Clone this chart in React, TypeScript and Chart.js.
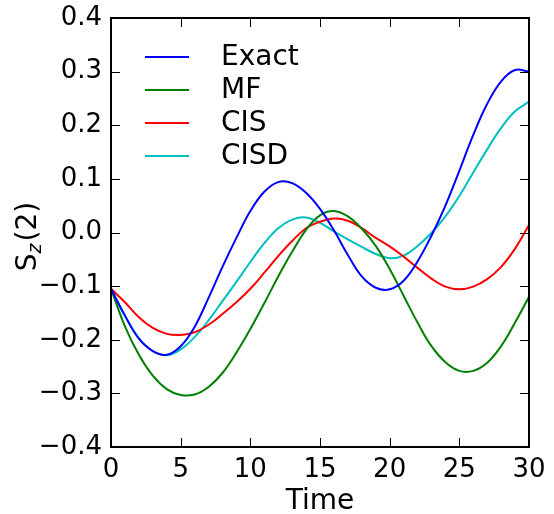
import React, { useEffect, useRef } from "react";
import { Chart, registerables } from "chart.js";

Chart.register(...registerables);

const time = [0, 1, 2, 3, 4, 5, 6, 7, 8, 9, 10, 11, 12, 13, 14, 15, 16, 17, 18, 19, 20, 21, 22, 23, 24, 25, 26, 27, 28, 29, 30];
const exact = [-0.105, -0.155, -0.198, -0.221, -0.228, -0.212, -0.176, -0.122, -0.064, -0.01, 0.04, 0.076, 0.094, 0.092, 0.074, 0.044, 0.004, -0.042, -0.082, -0.103, -0.106, -0.09, -0.054, -0.006, 0.05, 0.115, 0.182, 0.24, 0.282, 0.303, 0.3];
const mf = [-0.105, -0.175, -0.228, -0.267, -0.292, -0.303, -0.302, -0.288, -0.262, -0.224, -0.18, -0.132, -0.082, -0.036, 0.005, 0.032, 0.04, 0.03, 0.007, -0.025, -0.068, -0.118, -0.168, -0.212, -0.242, -0.258, -0.258, -0.243, -0.212, -0.168, -0.12];
const cis = [-0.105, -0.13, -0.158, -0.178, -0.189, -0.191, -0.186, -0.172, -0.152, -0.13, -0.105, -0.075, -0.044, -0.016, 0.008, 0.02, 0.026, 0.022, 0.008, -0.01, -0.026, -0.045, -0.066, -0.086, -0.101, -0.106, -0.101, -0.087, -0.064, -0.03, 0.014];
const cisd = [-0.105, -0.155, -0.197, -0.221, -0.229, -0.218, -0.195, -0.164, -0.128, -0.092, -0.055, -0.02, 0.008, 0.024, 0.028, 0.018, 0.002, -0.013, -0.027, -0.04, -0.048, -0.043, -0.025, -0.001, 0.03, 0.068, 0.112, 0.155, 0.195, 0.226, 0.244];

const seriesNames = ["Exact", "MF", "CIS", "CISD"];
const seriesColors = ["#0000ff", "#008000", "#ff0000", "#00bfbf"];
const seriesValues = [exact, mf, cis, cisd];

const xTicks = [0, 5, 10, 15, 20, 25, 30];
const yTicks = [-0.4, -0.3, -0.2, -0.1, 0.0, 0.1, 0.2, 0.3, 0.4];
const xLabel = "Time";
const FONT = "'DejaVu Sans', sans-serif";

function fmtY(v: number) {
  if (Math.abs(v) < 1e-9) return "0.0";
  const s = Math.abs(v).toFixed(1);
  return v < 0 ? "\u2212" + s : s;
}

const framePlugin = {
  id: "frameTicks",
  afterDatasetsDraw(chart: any) {
    const { ctx, chartArea: a, scales } = chart;
    const len = 9;
    ctx.save();
    ctx.strokeStyle = "#000";
    ctx.lineWidth = 1;
    ctx.beginPath();
    for (const v of xTicks) {
      const px = Math.round(scales.x.getPixelForValue(v)) + 0.5;
      ctx.moveTo(px, a.bottom);
      ctx.lineTo(px, a.bottom - len);
      ctx.moveTo(px, a.top);
      ctx.lineTo(px, a.top + len);
    }
    for (const v of yTicks) {
      const py = Math.round(scales.y.getPixelForValue(v)) + 0.5;
      ctx.moveTo(a.left, py);
      ctx.lineTo(a.left + len, py);
      ctx.moveTo(a.right, py);
      ctx.lineTo(a.right - len, py);
    }
    ctx.stroke();
    ctx.lineWidth = 2;
    ctx.strokeRect(a.left, a.top, a.right - a.left, a.bottom - a.top);

    // legend
    const lx = a.left + 34;
    const ly = a.top + 39;
    chart.data.datasets.forEach((ds: any, i: number) => {
      const y = ly + i * 33;
      ctx.strokeStyle = ds.borderColor;
      ctx.lineWidth = 2;
      ctx.beginPath();
      ctx.moveTo(lx, y);
      ctx.lineTo(lx + 44, y);
      ctx.stroke();
      ctx.fillStyle = "#000";
      ctx.font = `28px ${FONT}`;
      ctx.textBaseline = "middle";
      ctx.textAlign = "left";
      ctx.fillText(ds.label, lx + 76, y + 1);
    });

    // x label
    ctx.fillStyle = "#000";
    ctx.font = `28px ${FONT}`;
    ctx.textAlign = "center";
    ctx.textBaseline = "alphabetic";
    ctx.fillText(xLabel, (a.left + a.right) / 2, a.bottom + 62);

    // y label S_z(2)
    const cy = (a.top + a.bottom) / 2 + 4;
    ctx.translate(36, cy);
    ctx.rotate(-Math.PI / 2);
    ctx.textAlign = "left";
    ctx.textBaseline = "alphabetic";
    const p1 = "S";
    const p2 = "z";
    const p3 = "(2)";
    ctx.font = `28px ${FONT}`;
    const w1 = ctx.measureText(p1).width;
    const w3 = ctx.measureText(p3).width;
    ctx.font = `italic 19px ${FONT}`;
    const w2 = ctx.measureText(p2).width;
    const total = w1 + w2 + w3 + 2;
    let x = -total / 2;
    ctx.font = `28px ${FONT}`;
    ctx.fillText(p1, x, 0);
    x += w1;
    ctx.font = `italic 19px ${FONT}`;
    ctx.fillText(p2, x, 5);
    x += w2 + 2;
    ctx.font = `28px ${FONT}`;
    ctx.fillText(p3, x, 0);
    ctx.restore();
  },
};

export default function App() {
  const ref = useRef<HTMLCanvasElement | null>(null);
  useEffect(() => {
    if (!ref.current) return;
    const chart = new Chart(ref.current, {
      type: "line",
      data: {
        datasets: seriesNames.map((name, i) => ({
          label: name,
          data: time.map((t, j) => ({ x: t, y: seriesValues[i][j] })),
          borderColor: seriesColors[i],
          backgroundColor: seriesColors[i],
          borderWidth: 2,
          pointRadius: 0,
          tension: 0.4,
          fill: false,
        })),
      },
      options: {
        animation: false,
        responsive: false,
        maintainAspectRatio: false,
        layout: { padding: { top: 18, right: 25, left: 0, bottom: 0 } },
        plugins: { legend: { display: false }, tooltip: { enabled: false } },
        scales: {
          x: {
            type: "linear",
            min: 0,
            max: 30,
            afterBuildTicks: (s: any) => {
              s.ticks = xTicks.map((v) => ({ value: v }));
            },
            afterFit: (s: any) => {
              s.height = 67;
              s.paddingLeft = 0;
              s.paddingRight = 0;
            },
            grid: { display: false, drawTicks: false },
            border: { display: false },
            ticks: {
              color: "#000",
              font: { family: FONT, size: 26 },
              padding: 8,
              maxRotation: 0,
              autoSkip: false,
            },
          },
          y: {
            type: "linear",
            min: -0.4,
            max: 0.4,
            afterBuildTicks: (s: any) => {
              s.ticks = yTicks.map((v) => ({ value: v }));
            },
            afterFit: (s: any) => {
              s.width = 111;
              s.paddingTop = 0;
              s.paddingBottom = 0;
            },
            grid: { display: false, drawTicks: false },
            border: { display: false },
            ticks: {
              color: "#000",
              font: { family: FONT, size: 26 },
              padding: 9,
              autoSkip: false,
              callback: (v: any) => fmtY(Number(v)),
            },
          },
        },
      },
      plugins: [framePlugin],
    });
    return () => chart.destroy();
  }, []);
  return (
    <div style={{ position: "fixed", left: 0, top: 0, width: 554, height: 514, background: "#fff" }}>
      <canvas ref={ref} width={554} height={514} style={{ display: "block" }} />
    </div>
  );
}
